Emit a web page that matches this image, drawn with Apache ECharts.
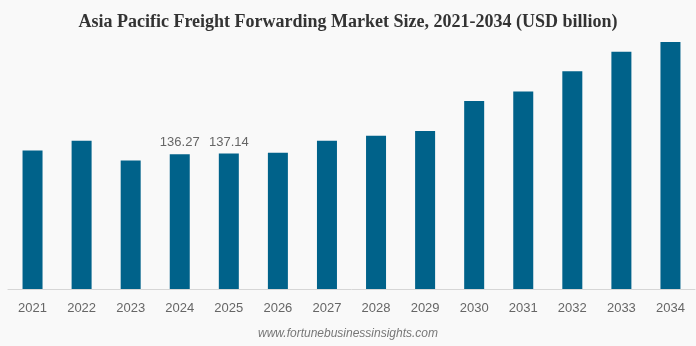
<!DOCTYPE html>
<html>
<head>
<meta charset="utf-8">
<script src="https://cdn.jsdelivr.net/npm/echarts@6/dist/echarts.min.js"></script>
<style>
html,body{margin:0;padding:0;background:#f9f9f9;}
#chart{width:696px;height:346px;}
</style>
</head>
<body>
<div id="chart"></div>
<script>
const years = ['2021','2022','2023','2024','2025','2026','2027','2028','2029','2030','2031','2032','2033','2034'];
const values = [140.1, 150.0, 130.0, 136.27, 137.14, 137.8, 150.0, 155.0, 159.8, 190.2, 199.9, 220.2, 240.1, 250.0];
const labeledYears = ['2024', '2025'];

const chart = echarts.init(document.getElementById('chart'));
chart.setOption({
  backgroundColor: '#f9f9f9',
  animation: false,
  title: {
    text: 'Asia Pacific Freight Forwarding Market Size, 2021-2034 (USD billion)',
    left: 'center',
    top: 8,
    textStyle: {fontFamily: 'Liberation Serif', fontWeight: 'bold', fontSize: 18, color: '#333'}
  },
  graphic: [{
    type: 'text',
    left: 'center',
    top: 328,
    style: {text: 'www.fortunebusinessinsights.com', font: 'italic 12px "Liberation Sans", Arial', fill: '#777'}
  }],
  grid: {left: 8, right: 1, top: 32, bottom: 57, containLabel: false},
  xAxis: {
    type: 'category',
    data: years,
    axisLine: {lineStyle: {color: '#d6d6d6'}},
    axisTick: {show: false},
    axisLabel: {color: '#666', fontSize: 13, fontFamily: 'Liberation Sans', margin: 13}
  },
  yAxis: {
    type: 'value', min: 0, max: 260, show: false, splitLine: {show: false}
  },
  series: [{
    type: 'bar',
    data: values.map((v, i) => ({
      value: v,
      label: {show: labeledYears.includes(years[i])}
    })),
    barWidth: 20,
    itemStyle: {color: '#00628a'},
    label: {
      position: 'top', distance: 5, color: '#666', fontSize: 13, fontFamily: 'Liberation Sans',
      formatter: p => p.value.toFixed(2)
    }
  }]
});
</script>
</body>
</html>
